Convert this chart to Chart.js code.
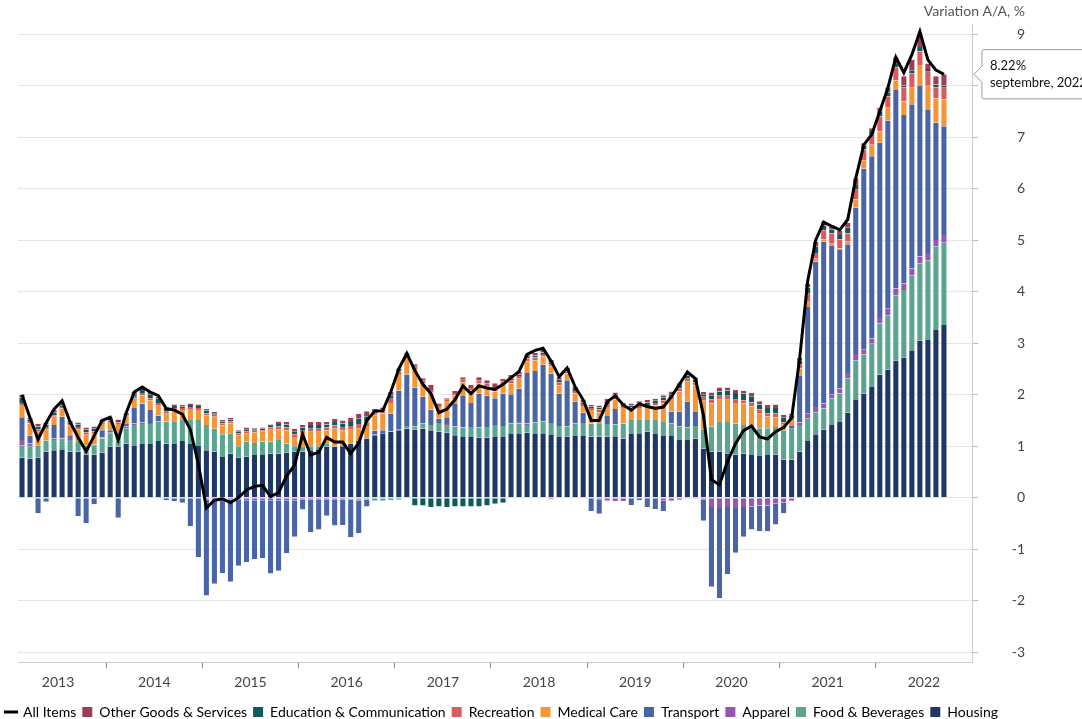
<!DOCTYPE html>
<html lang="fr">
<head>
    <meta charset="UTF-8">
    <title>CPI - contributions</title>
    <script src="https://cdn.jsdelivr.net/npm/chart.js"></script>
    <style>
        body { margin: 0; overflow: hidden; background: #fff; }
        #wrap { position: relative; width: 1110px; height: 719px; }
    </style>
</head>
<body>
<div id="wrap"><canvas id="cpiChart"></canvas></div>
<script>
    // mois : fév. 2013 -> déc. 2022 (les données s'arrêtent en sept. 2022)
    const months = [];
    for (let y = 2013; y <= 2022; y++) {
        for (let m = 1; m <= 12; m++) {
            if (y === 2013 && m === 1) continue;
            months.push(y + '-' + String(m).padStart(2, '0'));
        }
    }
    const moisFr = ['janvier', 'février', 'mars', 'avril', 'mai', 'juin', 'juillet',
        'août', 'septembre', 'octobre', 'novembre', 'décembre'];

    const allItems = [
        2.00, 1.55, 1.13, 1.45, 1.72, 1.88, 1.47, 1.17, 0.90, 1.20, 1.50, 1.56,
        1.12, 1.65, 2.05, 2.15, 2.05, 1.98, 1.73, 1.70, 1.62, 1.32, 0.65, -0.20,
        -0.05, -0.02, -0.10, 0.00, 0.15, 0.22, 0.24, 0.02, 0.10, 0.42, 0.63, 1.23,
        0.83, 0.88, 1.17, 1.08, 1.08, 0.86, 1.06, 1.50, 1.68, 1.69, 2.05, 2.50,
        2.80, 2.47, 2.20, 2.02, 1.65, 1.72, 1.90, 2.17, 2.02, 2.17, 2.13, 2.10,
        2.20, 2.33, 2.45, 2.78, 2.86, 2.90, 2.65, 2.35, 2.52, 2.15, 1.90, 1.50,
        1.50, 1.86, 1.98, 1.80, 1.70, 1.82, 1.77, 1.73, 1.76, 1.96, 2.20, 2.44,
        2.31, 1.60, 0.35, 0.25, 0.70, 1.05, 1.30, 1.39, 1.18, 1.14, 1.28, 1.36,
        1.55, 2.70, 4.20, 5.00, 5.35, 5.27, 5.20, 5.40, 6.20, 6.85, 7.05, 7.50,
        7.95, 8.55, 8.25, 8.60, 9.05, 8.50, 8.30, 8.22];

    const housing = [
        0.78, 0.76, 0.78, 0.89, 0.92, 0.94, 0.89, 0.89, 0.84, 0.84, 0.87, 0.99,
        0.99, 1.05, 1.02, 1.04, 1.04, 1.10, 1.05, 1.04, 1.10, 1.04, 1.02, 0.92,
        0.89, 0.79, 0.86, 0.78, 0.80, 0.83, 0.83, 0.86, 0.86, 0.87, 0.89, 0.89,
        0.92, 0.94, 0.99, 0.99, 1.00, 1.05, 1.10, 1.15, 1.21, 1.25, 1.28, 1.31,
        1.34, 1.32, 1.34, 1.31, 1.28, 1.26, 1.21, 1.18, 1.18, 1.17, 1.17, 1.18,
        1.18, 1.25, 1.25, 1.26, 1.25, 1.25, 1.23, 1.18, 1.19, 1.21, 1.21, 1.19,
        1.19, 1.19, 1.18, 1.15, 1.25, 1.25, 1.28, 1.25, 1.21, 1.21, 1.12, 1.12,
        1.15, 0.95, 0.89, 0.89, 0.86, 0.84, 0.86, 0.83, 0.81, 0.83, 0.84, 0.74,
        0.74, 0.89, 1.10, 1.23, 1.32, 1.41, 1.47, 1.65, 1.91, 2.02, 2.15, 2.39,
        2.49, 2.66, 2.72, 2.86, 3.05, 3.06, 3.27, 3.35];

    const food = [
        0.24, 0.24, 0.24, 0.21, 0.20, 0.21, 0.23, 0.19, 0.17, 0.17, 0.28, 0.25,
        0.27, 0.30, 0.39, 0.39, 0.39, 0.37, 0.43, 0.43, 0.41, 0.47, 0.49, 0.49,
        0.45, 0.44, 0.39, 0.22, 0.29, 0.23, 0.26, 0.23, 0.26, 0.18, 0.11, 0.10,
        0.08, 0.06, 0.05, 0.01, -0.01, -0.02, -0.03, -0.04, -0.06, -0.06, -0.05, -0.04,
        0.05, 0.06, 0.10, 0.10, 0.17, 0.15, 0.17, 0.18, 0.19, 0.19, 0.20, 0.23,
        0.21, 0.19, 0.19, 0.15, 0.21, 0.23, 0.22, 0.21, 0.19, 0.23, 0.24, 0.25,
        0.24, 0.24, 0.24, 0.29, 0.26, 0.26, 0.23, 0.26, 0.26, 0.23, 0.26, 0.24,
        0.24, 0.38, 0.49, 0.58, 0.61, 0.60, 0.55, 0.52, 0.54, 0.52, 0.53, 0.56,
        0.60, 0.52, 0.43, 0.43, 0.41, 0.52, 0.55, 0.67, 0.76, 0.76, 0.84, 0.99,
        1.05, 1.27, 1.31, 1.46, 1.50, 1.55, 1.61, 1.60];

    const apparel = [
        0.10, 0.05, 0, 0.01, 0.03, 0.03, 0.06, 0, 0, 0.02, 0.02, 0.02,
        0.03, 0.03, 0.03, 0.03, 0.02, 0.01, 0, 0, 0, 0, 0, -0.04,
        -0.04, -0.04, -0.04, -0.04, -0.05, -0.05, -0.05, -0.05, -0.05, -0.05, -0.05, -0.04,
        -0.04, -0.03, -0.03, -0.03, -0.03, -0.02, -0.02, 0.01, 0.02, 0, 0.01, 0.01,
        0, 0, 0, 0, 0, 0.02, 0, 0, 0, 0, 0, 0,
        0, 0, 0.05, 0.03, 0, 0, -0.03, 0, 0, 0, 0, 0,
        -0.03, -0.06, -0.07, -0.07, 0, 0, 0, 0, -0.06, -0.06, -0.04, -0.02,
        -0.02, -0.04, -0.18, -0.20, -0.18, -0.20, -0.18, -0.17, -0.15, -0.15, -0.12, -0.10,
        -0.06, 0.05, 0.10, 0.10, 0.10, 0.08, 0.10, 0.10, 0.12, 0.09, 0.10, 0.11,
        0.13, 0.13, 0.13, 0.13, 0.13, 0.14, 0.12, 0.15];

    const transport = [
        0.44, 0.15, -0.30, -0.08, 0.26, 0.39, 0.03, -0.36, -0.49, -0.13, 0.14, 0.05,
        -0.39, 0.05, 0.30, 0.37, 0.25, 0.11, -0.05, -0.07, -0.10, -0.55, -1.15, -1.86,
        -1.63, -1.42, -1.59, -1.28, -1.20, -1.14, -1.12, -1.42, -1.37, -1.03, -0.71, -0.19,
        -0.63, -0.59, -0.32, -0.51, -0.49, -0.73, -0.64, -0.13, 0.07, 0.06, 0.34, 0.76,
        1.00, 0.76, 0.52, 0.30, 0.08, 0.13, 0.44, 0.63, 0.47, 0.66, 0.61, 0.52,
        0.63, 0.57, 0.63, 0.98, 1.00, 1.10, 0.96, 0.63, 0.90, 0.42, 0.20, -0.26,
        -0.28, 0.17, 0.30, 0, -0.14, -0.05, -0.18, -0.22, -0.20, 0.23, 0.29, 0.50,
        0.29, -0.41, -1.55, -1.75, -1.30, -0.87, -0.58, -0.45, -0.50, -0.50, -0.40, -0.20,
        0.05, 0.90, 2.07, 2.82, 3.14, 2.89, 2.69, 2.50, 2.84, 3.52, 3.54, 3.40,
        3.65, 3.87, 3.27, 3.19, 3.31, 2.79, 2.28, 2.11];

    const medical = [
        0.24, 0.24, 0.26, 0.21, 0.16, 0.16, 0.19, 0.25, 0.21, 0.22, 0.12, 0.16,
        0.14, 0.14, 0.18, 0.16, 0.19, 0.21, 0.15, 0.23, 0.19, 0.21, 0.19, 0.19,
        0.23, 0.17, 0.19, 0.21, 0.16, 0.21, 0.19, 0.23, 0.21, 0.26, 0.18, 0.26,
        0.28, 0.28, 0.27, 0.34, 0.31, 0.27, 0.24, 0.23, 0.30, 0.33, 0.21, 0.32,
        0.32, 0.36, 0.26, 0.33, 0.23, 0.30, 0.17, 0.25, 0.24, 0.20, 0.18, 0.13,
        0.19, 0.21, 0.19, 0.23, 0.21, 0.16, 0.14, 0.16, 0.13, 0.16, 0.13, 0.26,
        0.23, 0.16, 0.19, 0.30, 0.19, 0.23, 0.23, 0.28, 0.36, 0.23, 0.39, 0.39,
        0.50, 0.55, 0.45, 0.43, 0.43, 0.40, 0.42, 0.42, 0.28, 0.23, 0.19, 0.13,
        0.12, 0.15, 0.12, 0.06, 0.04, 0.03, 0.03, 0.05, 0.16, 0.16, 0.22, 0.22,
        0.25, 0.17, 0.26, 0.32, 0.41, 0.47, 0.47, 0.52];

    const recreation = [
        0.04, 0.05, 0.05, 0.05, 0.03, 0.03, 0.03, 0.04, 0.05, 0.04, 0.03, 0.03,
        0.03, 0.03, 0.04, 0.04, 0.04, 0.04, 0.04, 0.04, 0.04, 0.04, 0.04, 0.04,
        0.04, 0.04, 0.04, 0.04, 0.04, 0.03, 0.03, 0.04, 0.05, 0.05, 0.05, 0.05,
        0.06, 0.06, 0.05, 0.06, 0.06, 0.07, 0.09, 0.09, 0.04, 0.04, 0.08, 0.05,
        0.04, 0.04, 0.05, 0.05, 0.04, 0.04, 0.04, 0.05, 0.05, 0.06, 0.06, 0.06,
        0.05, 0.06, 0.05, 0.05, 0.05, 0.05, 0.04, 0.06, 0.04, 0.05, 0.04, 0.04,
        0.05, 0.06, 0.05, 0.04, 0.05, 0.05, 0.06, 0.05, 0.06, 0.06, 0.06, 0.06,
        0.06, 0.08, 0.08, 0.08, 0.08, 0.06, 0.06, 0.08, 0.08, 0.06, 0.08, 0.03,
        0.03, 0.08, 0.14, 0.11, 0.18, 0.20, 0.17, 0.16, 0.19, 0.21, 0.20, 0.29,
        0.22, 0.25, 0.28, 0.28, 0.26, 0.26, 0.22, 0.23];

    const education = [
        0.10, 0.03, 0.05, 0.05, 0.05, 0.03, 0.03, 0.05, 0.05, 0.05, 0.03, 0.03,
        0.03, 0.03, 0.05, 0.08, 0.08, 0.08, 0.05, 0.04, 0.03, 0.04, 0.04, 0.05,
        0.03, 0.04, 0.04, 0.03, 0.04, 0.03, 0.03, 0.03, 0.05, 0.06, 0.06, 0.06,
        0.07, 0.07, 0.06, 0.07, 0.07, 0.08, 0.10, 0.10, 0.03, 0.03, 0.07, 0.03,
        0.03, -0.15, -0.15, -0.18, -0.17, -0.18, -0.17, -0.17, -0.17, -0.17, -0.15, -0.12,
        -0.10, 0.04, 0.03, 0.03, 0.04, 0.03, 0.04, 0.05, 0.03, 0.04, 0.03, 0.03,
        0.04, 0.05, 0.04, 0.03, 0.04, 0.04, 0.05, 0.04, 0.05, 0.05, 0.05, 0.06,
        0.05, 0.05, 0.08, 0.08, 0.10, 0.13, 0.13, 0.12, 0.10, 0.10, 0.10, 0.10,
        0.06, 0.07, 0.12, 0.12, 0.10, 0.07, 0.09, 0.11, 0.09, 0.07, 0.07, 0.09,
        0.08, 0.07, 0.03, 0.06, 0.09, 0.05, 0.05, 0.04];

    const other = [
        0.06, 0.03, 0.05, 0.04, 0.05, 0.03, 0.03, 0.04, 0.04, 0.04, 0.03, 0.03,
        0.03, 0.02, 0.04, 0.04, 0.04, 0.04, 0.03, 0.03, 0.03, 0.03, 0.03, 0.03,
        0.03, 0.03, 0.03, 0.03, 0.03, 0.02, 0.02, 0.03, 0.05, 0.05, 0.05, 0.05,
        0.06, 0.06, 0.05, 0.06, 0.06, 0.08, 0.10, 0.10, 0.05, 0.04, 0.06, 0.03,
        0.03, 0.05, 0.05, 0.10, 0.03, 0.03, 0.04, 0.05, 0.06, 0.06, 0.06, 0.10,
        0.05, 0.06, 0.05, 0.05, 0.05, 0.06, 0.05, 0.05, 0.04, 0.04, 0.05, 0.03,
        0.04, 0.05, 0.04, 0.03, 0.04, 0.04, 0.05, 0.04, 0.05, 0.05, 0.05, 0.05,
        0.04, 0.04, 0.05, 0.08, 0.06, 0.06, 0.05, 0.06, 0.06, 0.06, 0.07, 0.05,
        0.03, 0.05, 0.07, 0.10, 0.07, 0.07, 0.08, 0.09, 0.13, 0.05, 0.05, 0.08,
        0.10, 0.13, 0.18, 0.20, 0.23, 0.11, 0.16, 0.22];

    const yearTicks = ['2013', '2014', '2015', '2016', '2017', '2018', '2019', '2020', '2021', '2022'];
    const yTicks = [-3, -2, -1, 0, 1, 2, 3, 4, 5, 6, 7, 8, 9];

    // empilement : du bas (Housing) vers le haut (Other)
    const barSeries = [
        ['Housing', housing, '#1f3764'],
        ['Food & Beverages', food, '#5aa58f'],
        ['Apparel', apparel, '#9a55b3'],
        ['Transport', transport, '#4a65a6'],
        ['Medical Care', medical, '#f79433'],
        ['Recreation', recreation, '#da5a5f'],
        ['Education & Communication', education, '#0f5b5c'],
        ['Other Goods & Services', other, '#9b3e56']
    ];

    Chart.defaults.font.family = "Lato, 'Open Sans', sans-serif";
    Chart.defaults.font.size = 14;
    Chart.defaults.color = '#444';

    const datasets = [{
        type: 'line',
        label: 'All Items',
        data: allItems,
        borderColor: '#000',
        backgroundColor: '#000',
        borderWidth: 3,
        pointRadius: 0,
        pointHoverRadius: 0,
        tension: 0,
        order: 0
    }];
    barSeries.forEach(([label, data, color]) => {
        datasets.push({
            type: 'bar',
            label: label,
            data: data,
            backgroundColor: color,
            borderColor: 'rgba(255,255,255,0.35)',
            borderWidth: { left: 1, right: 1, top: 0, bottom: 0 },
            barPercentage: 0.88,
            categoryPercentage: 1.0,
            stack: 'cpi',
            order: 1
        });
    });

    const legendRank = item => item.datasetIndex === 0 ? -100 : -item.datasetIndex;

    const ctx = document.getElementById('cpiChart').getContext('2d');
    const chart = new Chart(ctx, {
        data: { labels: months, datasets: datasets },
        options: {
            responsive: true,
            maintainAspectRatio: false,
            devicePixelRatio: 1,
            animation: false,
            events: [],
            layout: { padding: { left: 0, right: 85, top: 0, bottom: -10 } },
            scales: {
                x: {
                    stacked: true,
                    offset: true,
                    grid: {
                        offset: true,
                        drawOnChartArea: false,
                        tickLength: 6,
                        color: c => (months[c.index] && months[c.index].endsWith('-01')) ? '#888' : 'rgba(0,0,0,0)'
                    },
                    border: { color: '#ccc' },
                    ticks: {
                        autoSkip: false,
                        maxRotation: 0,
                        minRotation: 0,
                        labelOffset: -4,
                        padding: 6,
                        color: '#444',
                        callback: function (v, i) {
                            const m = months[i];
                            if (!m || !m.endsWith('-07')) return '';
                            return yearTicks[yearTicks.indexOf(m.slice(0, 4))];
                        }
                    },
                    afterFit: s => { s.height = 37; }
                },
                y: {
                    position: 'right',
                    stacked: true,
                    min: -3.19,
                    max: 9.18,
                    afterBuildTicks: s => {
                        s.ticks = yTicks.map(v => ({ value: v }));
                    },
                    ticks: { crossAlign: 'far', padding: 4, color: '#444' },
                    grid: { color: '#e6e6e6', tickLength: 6, tickColor: '#bbb' },
                    border: { color: '#ccc' },
                    afterFit: s => { s.width = 53; }
                },
                yl: {
                    position: 'left',
                    grid: { display: false },
                    border: { display: false },
                    ticks: { display: false },
                    afterFit: s => { s.width = 18; }
                }
            },
            plugins: {
                title: {
                    display: true,
                    text: 'Variation A/A, %',
                    align: 'end',
                    color: '#555',
                    font: { size: 14, weight: 'normal' },
                    padding: { top: 3, bottom: 5 }
                },
                legend: {
                    position: 'bottom',
                    align: 'start',
                    labels: {
                        usePointStyle: true,
                        boxWidth: 10,
                        boxHeight: 10,
                        padding: 6,
                        color: '#333',
                        generateLabels: ch => ch.data.datasets.map((ds, i) => ({
                            text: ds.label,
                            datasetIndex: i,
                            fillStyle: ds.type === 'line' ? '#000' : ds.backgroundColor,
                            strokeStyle: ds.type === 'line' ? '#000' : ds.backgroundColor,
                            lineWidth: ds.type === 'line' ? 3 : 0,
                            pointStyle: ds.type === 'line' ? 'line' : 'rect',
                            hidden: false
                        })),
                        sort: (a, b) => legendRank(a) - legendRank(b)
                    }
                },
                tooltip: {
                    enabled: true,
                    xAlign: 'left',
                    yAlign: 'center',
                    caretSize: 8,
                    caretPadding: 30,
                    backgroundColor: '#fff',
                    borderColor: '#999',
                    borderWidth: 1,
                    cornerRadius: 2,
                    displayColors: false,
                    padding: 8,
                    bodyColor: '#111',
                    bodyFont: { size: 13 },
                    bodySpacing: 2,
                    filter: item => item.datasetIndex === 0,
                    callbacks: {
                        title: () => '',
                        label: c => {
                            const m = months[c.dataIndex];
                            return [c.parsed.y.toFixed(2) + '%',
                                moisFr[parseInt(m.slice(5), 10) - 1] + ', ' + m.slice(0, 4)];
                        }
                    }
                }
            }
        }
    });

    // infobulle fixe sur le dernier point
    chart.tooltip.setActiveElements([{ datasetIndex: 0, index: allItems.length - 1 }], { x: 0, y: 0 });
    chart.update();
</script>
</body>
</html>
